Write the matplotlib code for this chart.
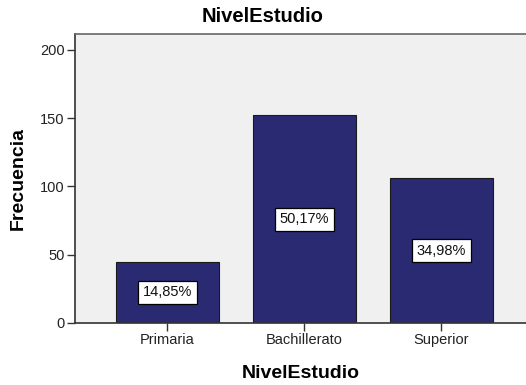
import matplotlib
matplotlib.use("Agg")
import matplotlib.pyplot as plt

categories = ["Primaria", "Bachillerato", "Superior"]
counts = [45, 152, 106]
pct_labels = ["14,85%", "50,17%", "34,98%"]
yticks = [0, 50, 100, 150, 200]

plt.rcParams['font.family'] = ['Liberation Sans', 'DejaVu Sans']

W, H = 526, 385
fig = plt.figure(figsize=(W / 100, H / 100), dpi=100)
fig.patch.set_facecolor("white")
left, right, bottom, top = 75, 526, 323, 34
aw, ah = right - left, bottom - top
ax = fig.add_axes([left / W, (H - bottom) / H, aw / W, ah / H])
ax.set_facecolor("#F0F0F0")

x = list(range(len(categories)))
ax.bar(x, counts, width=0.75, color="#2A2A73", edgecolor="#1a1a1a", linewidth=0.8, zorder=2)
for xi, c, lab in zip(x, counts, pct_labels):
    ax.text(xi, c / 2, lab, ha="center", va="center", fontsize=10.5, color="#111111", zorder=3,
            bbox=dict(boxstyle="square,pad=0.3", facecolor="white", edgecolor="black", linewidth=0.9))

ax.set_xlim(-0.675, 2.617)
ax.set_ylim(0, 211.7)
ax.set_xticks(x)
ax.set_xticklabels(categories, fontsize=10.5, color="#222222")
ax.set_yticks(yticks)
ax.set_yticklabels([str(v) for v in yticks], fontsize=10.5, color="#222222")
ax.tick_params(axis="both", direction="out", length=6, width=1, color="#333333", pad=1.5)
ax.spines["right"].set_visible(False)
for s in ["left", "bottom", "top"]:
    ax.spines[s].set_color("#333333")
    ax.spines[s].set_linewidth(1.2)
ax.spines["top"].set_color("#666666")

fig.text(0.5, 1 - 17 / H, "NivelEstudio", ha="center", va="center", fontsize=14.5, fontweight="bold")
ax.set_xlabel("NivelEstudio", fontsize=14, fontweight="bold", va="center")
ax.xaxis.set_label_coords(0.5, (bottom - 373) / ah)
ax.set_ylabel("Frecuencia", fontsize=14, fontweight="bold", va="center")
ax.yaxis.set_label_coords((18 - left) / aw, 0.5)

fig.savefig("out.png", dpi=100)
